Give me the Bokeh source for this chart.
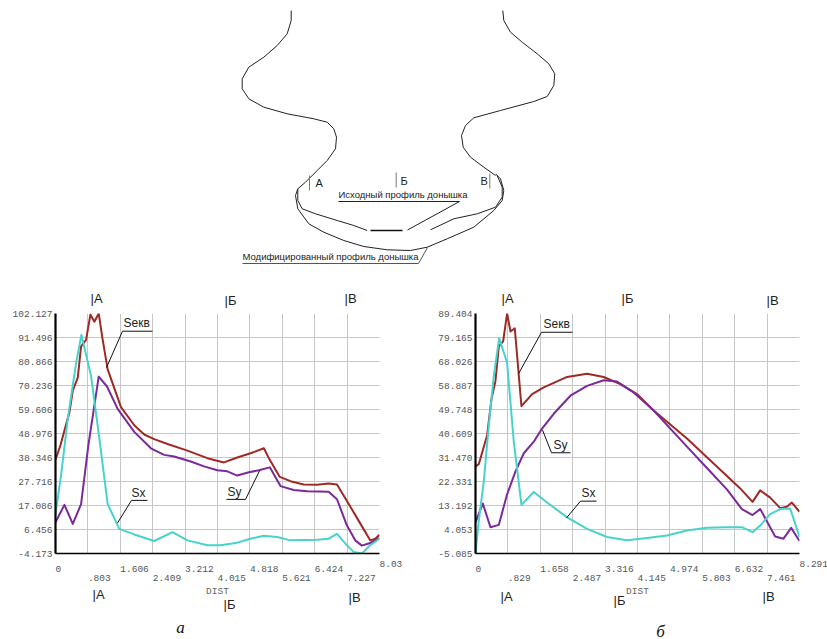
from bokeh.embed import file_html
from bokeh.resources import INLINE
from bokeh.layouts import column, row
from bokeh.models import Range1d, FixedTicker, LinearAxis, Grid
from bokeh.core.properties import value
from bokeh.plotting import figure

# ---------- data: chart a ----------
a_ekv_x = [0,0.124,0.346,0.428,0.552,0.634,0.758,0.865,0.964,1.071,1.170,1.293,1.623,1.952,2.199,2.446,2.776,3.270,3.764,4.176,4.505,4.835,5.164,5.288,5.559,5.823,6.152,6.482,6.770,6.976,7.223,7.511,7.799,7.923,8.03]
a_ekv_y = [37.33,43.88,58.44,67.91,73.73,87.57,90.48,101.69,98.49,102.13,90.48,77.37,60.63,52.62,48.54,46.50,44.32,41.40,38.05,36.16,38.35,40.24,42.42,38.05,29.75,27.86,26.40,26.26,26.84,26.40,19.12,10.39,1.65,2.38,4.13]
a_sy_x = [0,0.222,0.428,0.634,0.815,1.071,1.277,1.540,1.952,2.364,2.693,2.940,3.352,3.681,4.011,4.258,4.505,4.793,5.040,5.312,5.576,5.905,6.235,6.770,6.976,7.223,7.429,7.594,7.799,8.03]
a_sy_y = [9.66,17.38,8.93,17.67,43.88,74.17,69.80,59.90,49.70,42.42,39.51,38.78,36.60,34.41,32.67,32.23,30.34,31.79,32.67,33.98,25.68,23.93,23.35,23.20,19.85,8.20,1.65,-0.68,0.48,2.67]
a_sx_x = [0,0.140,0.305,0.511,0.642,0.881,1.087,1.293,1.581,1.952,2.446,2.899,3.270,3.764,4.093,4.505,4.835,5.164,5.493,5.823,6.482,6.770,6.976,7.223,7.388,7.594,7.799,8.03]
a_sx_y = [13.30,30.77,55.53,80.28,92.66,74.46,46.79,17.67,6.75,4.27,1.36,5.29,1.65,-0.54,-0.54,0.63,2.38,3.69,3.10,1.65,1.94,2.38,4.56,-0.54,-3.45,-4.17,-0.54,2.38]
a_y_labels = ["102.127","91.496","80.866","70.236","59.606","48.976","38.346","27.716","17.086","6.456","-4.173"]
a_x_row1 = ["0","1.606","3.212","4.818","6.424","8.03"]
a_x_row2 = [".803","2.409","4.015","5.621","7.227"]

# ---------- data: chart b ----------
b_ekv_x = [0,0.085,0.298,0.409,0.511,0.596,0.707,0.809,0.895,1.005,1.176,1.449,1.747,2.343,2.855,3.281,3.707,4.133,4.559,5.411,6.263,6.774,7.089,7.285,7.541,7.797,7.967,8.095,8.291]
b_ekv_y = [28.09,28.97,39.98,53.75,60.64,73.79,75.66,86.31,79.42,80.67,51.00,55.63,58.14,62.14,63.40,62.14,59.39,55.63,49.37,38.73,26.84,19.70,14.57,18.95,16.20,12.19,12.69,14.32,10.81]
b_sy_x = [0,0.187,0.383,0.596,0.809,1.023,1.236,1.491,1.704,2.002,2.429,2.855,3.281,3.621,4.047,4.559,4.985,5.411,5.922,6.433,6.817,7.089,7.285,7.669,7.882,8.078,8.291]
b_sy_y = [6.81,13.94,4.93,5.81,17.45,26.21,33.10,37.48,42.49,48.12,55.00,58.76,60.89,60.39,56.26,49.37,42.49,35.60,27.47,19.33,11.82,9.56,11.82,1.42,0.55,4.68,-0.32]
b_sx_x = [0,0.085,0.213,0.341,0.469,0.605,0.809,0.980,1.176,1.491,1.832,2.343,2.855,3.366,3.877,4.388,4.900,5.411,5.922,6.433,6.817,7.089,7.285,7.541,7.797,8.052,8.291]
b_sx_y = [-5.08,7.43,22.46,43.74,62.52,76.91,67.53,37.48,13.44,18.33,14.32,8.69,4.31,1.18,-0.08,0.80,1.80,3.68,4.68,4.93,4.93,3.05,5.56,9.94,11.82,12.07,1.18]
b_y_ticks = [86.304,77.165,68.026,58.887,49.748,40.609,31.470,22.331,13.192,4.053,-5.085]
b_y_labels = ["89.404","79.165","68.026","58.887","49.748","40.609","31.470","22.331","13.192","4.053","-5.085"]
b_x_row1 = ["0","1.658","3.316","4.974","6.632","8.291"]
b_x_row2 = [".829","2.487","4.145","5.803","7.461"]

# ---------- profile drawing (page-pixel coordinates of the sketch) ----------
prof_left_x = [290.7,290.7,286.7,276.7,263.3,248.3,241.7,241.7,248.3,263.3,286.7,313.3,326.7,333.3,336,335,326.7,316.7,305,297.3]
prof_left_y = [10,20,33.3,45,56.7,66.7,78.3,88.3,98.3,106.7,113.3,118.3,121.7,128.3,136.7,148.3,160,170,181.7,188.3]
prof_right_x = [502.3,503.3,510,521.7,536.7,548.3,554.3,553.3,546.7,533.3,500,473.3,465,461,462.7,470,483.3,495]
prof_right_y = [10,20,31.7,41.7,53.3,63.3,73.3,85,96,101,110,117.3,125,135,146.7,156.7,166.7,175]
prof_mod_x = [297.3,295,297.3,308.3,323.3,343.3,363.3,386.7,410,426.7,446.7,473.3,493.3,501.7,503.3,500,495]
prof_mod_y = [188.3,195,208.3,223.3,231.7,240,246,249.3,250,246.7,238.3,226.7,210,200,190,178.3,173.3]
prof_orig_l_x = [297.3,297.3,301.7,315,336.7,353.3,366.7]
prof_orig_l_y = [188.3,200,208.3,213.3,220,225,230]
prof_orig_r_x = [430,453.3,476.7,495,501.7,501.7,496.7]
prof_orig_r_y = [229.3,218.3,213.3,206.7,196.7,186.7,175]

RED, PURPLE, CYAN = "#9e2a26", "#7b2a9b", "#48d2cd"
TXT = "Liberation Sans"
MONO = "Liberation Mono"
TOP_H = 266
CHAR_W = 5.7


def put_text(p, x, y, text, font=TXT, size="12px", color="#222222", align="left",
             baseline="middle", style="normal"):
    # text glyphs on the annotation level may lie outside the frame
    p.text([x], [y], text=[text], text_font=value(font), text_font_size=size, text_color=color,
           text_align=align, text_baseline=baseline, text_font_style=style, level="annotation")


def top_figure():
    p = figure(width=827, height=TOP_H, x_range=Range1d(0, 827), y_range=Range1d(TOP_H, 0),
               output_backend="svg", toolbar_location=None, min_border=0, outline_line_color=None)
    p.axis.visible = False
    p.grid.visible = False
    for xs, ys in [(prof_left_x, prof_left_y), (prof_right_x, prof_right_y), (prof_mod_x, prof_mod_y),
                   (prof_orig_l_x, prof_orig_l_y), (prof_orig_r_x, prof_orig_r_y)]:
        p.line(xs, ys, line_color="#222222", line_width=1, line_join="round")
    p.line([370, 402], [230, 230], line_color="#111111", line_width=1.6)
    p.line([338, 459, 407], [201, 201, 229.5], line_color="#222222", line_width=1)
    p.line([242, 418, 427], [263, 263, 247], line_color="#555555", line_width=1)
    for x, y0, y1 in [(309, 175, 190), (395.7, 172, 187), (489.3, 173, 188)]:
        p.line([x, x], [y0, y1], line_color="#777777", line_width=1)
    for x, y, t, size in [(315, 182, "А", "11px"), (400, 180, "Б", "11px"), (480, 180, "В", "11px"),
                          (338, 194, "Исходный профиль донышка", "9.5px"),
                          (242, 256, "Модифицированный профиль донышка", "9.5px")]:
        put_text(p, x, y, t, size=size)
    return p


def chart(width, fl, ft, fr, fw_h, x_max, y_lo, y_hi, y_ticks, y_labels, row1, row2, series,
          marks, leaders, page_left, page_top, caption, height):
    fb = height - ft - fw_h
    p = figure(width=width, height=height, x_range=Range1d(0, x_max), y_range=Range1d(y_lo, y_hi),
               output_backend="svg", toolbar_location=None, x_axis_type=None, y_axis_type=None,
               min_border_left=fl, min_border_right=fr, min_border_top=ft, min_border_bottom=fb,
               outline_line_color=None, background_fill_color="white")
    frame_w = width - fl - fr

    def X(px):
        return (px - (page_left + fl)) / frame_w * x_max

    def Y(py):
        return y_hi - (py - (page_top + ft)) / fw_h * (y_hi - y_lo)

    def left_aligned(labels):
        # tick labels of the reference start at their tick, axis labels are centred: move the label ticks
        shifted = [round(float(s) + len(s) * CHAR_W / 2 * x_max / frame_w, 4) for s in labels]
        return shifted, dict(zip(shifted, labels))

    col = "#555555"
    yax = LinearAxis(ticker=FixedTicker(ticks=y_ticks),
                     major_label_overrides=dict(zip(y_ticks, y_labels)),
                     axis_line_color="black", axis_line_width=2.2, major_tick_line_color=None,
                     minor_tick_line_color=None, major_tick_in=0, major_tick_out=0,
                     major_label_standoff=3, major_label_text_font=MONO,
                     major_label_text_font_size="9.5px", major_label_text_color=col)
    p.add_layout(yax, "left")
    s1, o1 = left_aligned(row1[:-1])
    s2, o2 = left_aligned(row2)
    ax1 = LinearAxis(ticker=FixedTicker(ticks=s1), major_label_overrides=o1,
                     axis_line_color="black", axis_line_width=1.6, major_tick_line_color=None,
                     minor_tick_line_color=None, major_tick_in=0, major_tick_out=0,
                     major_label_standoff=12, major_label_text_font=MONO,
                     major_label_text_font_size="9.5px", major_label_text_color=col)
    ax2 = LinearAxis(ticker=FixedTicker(ticks=s2), major_label_overrides=o2,
                     axis_line_color=None, major_tick_line_color=None, minor_tick_line_color=None,
                     major_tick_in=0, major_tick_out=0, major_label_standoff=0,
                     major_label_text_font=MONO, major_label_text_font_size="9.5px",
                     major_label_text_color=col,
                     axis_label="DIST", axis_label_standoff=2, axis_label_text_font=MONO,
                     axis_label_text_font_size="9.5px", axis_label_text_color="#666666",
                     axis_label_text_font_style="normal")
    p.add_layout(ax1, "below")
    p.add_layout(ax2, "below")
    grid_x = sorted(float(s) for s in row1 + row2)
    p.add_layout(Grid(dimension=0, ticker=FixedTicker(ticks=grid_x), grid_line_color="#c6c6c6"))
    p.add_layout(Grid(dimension=1, ticker=FixedTicker(ticks=y_ticks), grid_line_color="#c6c6c6"))
    # last label starts at the frame's right edge, outside the range an axis can label
    put_text(p, x_max, Y(page_top + ft + fw_h + 11), row1[-1], font=MONO, size="9.5px", color=col)

    for xs, ys, c in series:
        p.line(xs, ys, line_color=c, line_width=2, line_join="round")

    for pts in leaders:
        p.line([X(q[0]) for q in pts], [Y(q[1]) for q in pts], line_color="#111111", line_width=1)
    for px, py, t, size in marks:
        put_text(p, X(px), Y(py), t, size=size)
    cx, cy, ct = caption
    put_text(p, X(cx), Y(cy), ct, font="Liberation Serif", size="17px", color="#111111",
             align="center", baseline="alphabetic", style="italic")
    return p


fig_top = top_figure()
fig_a = chart(416, 55, 313 - TOP_H, 37, 244, 8.03, -4.173, 102.127,
              [float(s) for s in a_y_labels], a_y_labels, a_x_row1, a_x_row2,
              [(a_ekv_x, a_ekv_y, RED), (a_sy_x, a_sy_y, PURPLE), (a_sx_x, a_sx_y, CYAN)],
              [(90, 298, "|А", "13px"), (224, 300, "|Б", "13px"), (344, 298, "|В", "13px"),
               (92, 599, "|А", "13px"), (223, 609, "|Б", "13px"), (348, 602, "|В", "13px"),
               (123, 323, "Sекв", "12px"), (131, 495, "Sx", "12px"), (227, 494, "Sy", "12px")],
              [[(152, 331), (122, 331), (106, 368)], [(147, 503), (131, 503), (117, 526)],
               [(226, 502), (245, 502), (259, 473)]],
              0, TOP_H, (180, 632, "а"), 373)
fig_b = chart(411, 59, 310 - TOP_H, 28, 243, 8.291, -5.085, 86.304,
              b_y_ticks, b_y_labels, b_x_row1, b_x_row2,
              [(b_ekv_x, b_ekv_y, RED), (b_sy_x, b_sy_y, PURPLE), (b_sx_x, b_sx_y, CYAN)],
              [(501, 295, "|А", "13px"), (621, 295, "|Б", "13px"), (766, 297, "|В", "13px"),
               (500, 597, "|А", "13px"), (613, 601, "|Б", "13px"), (762, 597, "|В", "13px"),
               (543, 321, "Sекв", "12px"), (553, 443, "Sy", "12px"), (581, 492, "Sx", "12px")],
              [[(572, 329), (541, 329), (518, 371)], [(570, 451), (551, 451), (542, 428)],
               [(596, 500), (580, 500), (566, 517)]],
              416, TOP_H, (660, 632, "б"), 373)

page = column(fig_top, row(fig_a, fig_b, spacing=0), spacing=0)
open("out.html", "w").write(file_html(page, INLINE))
